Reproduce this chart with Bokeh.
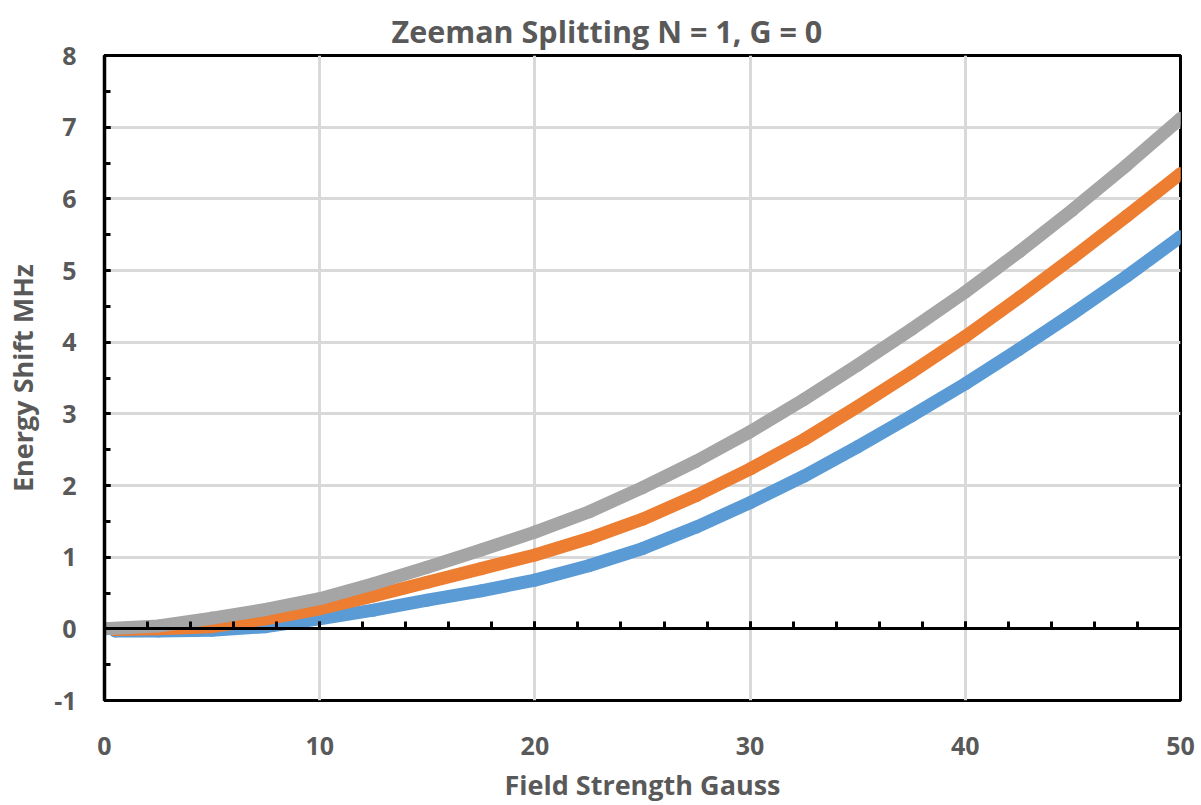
from bokeh.plotting import figure
from bokeh.models import LinearAxis, SingleIntervalTicker, Range1d
from bokeh.embed import file_html
from bokeh.resources import INLINE

# Data (Field Strength in Gauss, Energy Shift in MHz)
x_gray = [0, 2.5, 5, 7.5, 10, 12.5, 15, 17.5, 20, 22.5, 25, 27.5, 30, 32.5, 35, 37.5, 40, 42.5, 45, 47.5, 50]
y_gray = [0.0, 0.04, 0.15, 0.27, 0.42, 0.63, 0.86, 1.10, 1.35, 1.63, 1.97, 2.34, 2.75, 3.20, 3.68, 4.18, 4.70, 5.26, 5.85, 6.47, 7.12]

x_orange = [0.5, 2.5, 5, 7.5, 10, 12.5, 15, 17.5, 20, 22.5, 25, 27.5, 30, 32.5, 35, 37.5, 40, 42.5, 45, 47.5, 50]
y_orange = [-0.01, 0.0, 0.03, 0.14, 0.28, 0.46, 0.65, 0.84, 1.03, 1.26, 1.53, 1.86, 2.23, 2.64, 3.10, 3.58, 4.08, 4.62, 5.18, 5.76, 6.35]

x_blue = [0.5, 2.5, 5, 7.5, 10, 12.5, 15, 17.5, 20, 22.5, 25, 27.5, 30, 32.5, 35, 37.5, 40, 42.5, 45, 47.5, 50]
y_blue = [-0.03, -0.03, -0.02, 0.03, 0.14, 0.26, 0.40, 0.53, 0.68, 0.88, 1.12, 1.42, 1.76, 2.13, 2.54, 2.97, 3.42, 3.90, 4.40, 4.92, 5.47]

series = [
    (x_blue, y_blue, "#5B9BD5"),
    (x_orange, y_orange, "#ED7D31"),
    (x_gray, y_gray, "#A5A5A5"),
]

TEXT = "#595959"
FONT = "Open Sans"

p = figure(width=1195, height=805, x_range=Range1d(0, 50), y_range=Range1d(-1, 8),
           output_backend="svg", toolbar_location=None,
           min_border_left=104, min_border_right=15, min_border_top=55, min_border_bottom=105)

p.outline_line_color = "black"
p.outline_line_width = 3
p.background_fill_color = "white"
p.border_fill_color = "white"

# Title
p.title.text = "Zeeman Splitting N = 1, G = 0"
p.title.text_font = FONT
p.title.text_font_size = "30.5px"
p.title.text_font_style = "bold"
p.title.text_color = TEXT
p.title.vertical_align = "top"
p.title.align = "left"
p.title.offset = 287
p.title.standoff = 4

# Grid
p.xgrid.ticker = SingleIntervalTicker(interval=10)
p.ygrid.ticker = SingleIntervalTicker(interval=1)
for g in (p.xgrid, p.ygrid):
    g.grid_line_color = "#D9D9D9"
    g.grid_line_width = 3

# Left (y) axis
ya = p.yaxis[0]
ya.ticker = SingleIntervalTicker(interval=1, num_minor_ticks=2)
ya.major_label_overrides = {-1: "-1"}
ya.axis_line_color = "black"
ya.axis_line_width = 3.5
ya.major_tick_in = 6
ya.major_tick_out = 0
ya.minor_tick_in = 6
ya.minor_tick_out = 0
ya.major_tick_line_width = 3
ya.minor_tick_line_width = 3
ya.major_label_standoff = 28
ya.major_label_text_font = FONT
ya.major_label_text_font_size = "25px"
ya.major_label_text_font_style = "bold"
ya.major_label_text_color = TEXT
ya.axis_label = "Energy Shift MHz"
ya.axis_label_text_font = FONT
ya.axis_label_text_font_size = "27px"
ya.axis_label_text_font_style = "bold"
ya.axis_label_text_color = TEXT
ya.axis_label_standoff = 10

# Bottom axis: labels only
xa = p.xaxis[0]
xa.ticker = SingleIntervalTicker(interval=10)
xa.axis_line_color = None
xa.major_tick_line_color = None
xa.minor_tick_line_color = None
xa.major_label_standoff = 30
xa.major_label_text_font = FONT
xa.major_label_text_font_size = "25px"
xa.major_label_text_font_style = "bold"
xa.major_label_text_color = TEXT
xa.axis_label = "Field Strength Gauss"
xa.axis_label_text_font = FONT
xa.axis_label_text_font_size = "27px"
xa.axis_label_text_font_style = "bold"
xa.axis_label_text_color = TEXT
xa.axis_label_standoff = 8

# Axis line at y = 0 with upward ticks (placed in the upper panel, drawn at y = 0)
za = LinearAxis(fixed_location=0, ticker=SingleIntervalTicker(interval=10, num_minor_ticks=5))
za.axis_line_color = "black"
za.axis_line_width = 3
za.major_tick_in = 0
za.major_tick_out = 7
za.minor_tick_in = 0
za.minor_tick_out = 7
za.major_tick_line_width = 3
za.minor_tick_line_width = 3
za.major_tick_line_color = "black"
za.minor_tick_line_color = "black"
za.major_label_text_font_size = "0px"
za.major_label_text_color = None
za.major_label_standoff = 0
p.add_layout(za, "above")

for xs, ys, c in series:
    p.line(xs, ys, line_color=c, line_width=13, line_cap="round", line_join="round")
    p.scatter(xs, ys, size=13, fill_color=c, line_color=None)

open("out.html", "w").write(file_html(p, INLINE))
